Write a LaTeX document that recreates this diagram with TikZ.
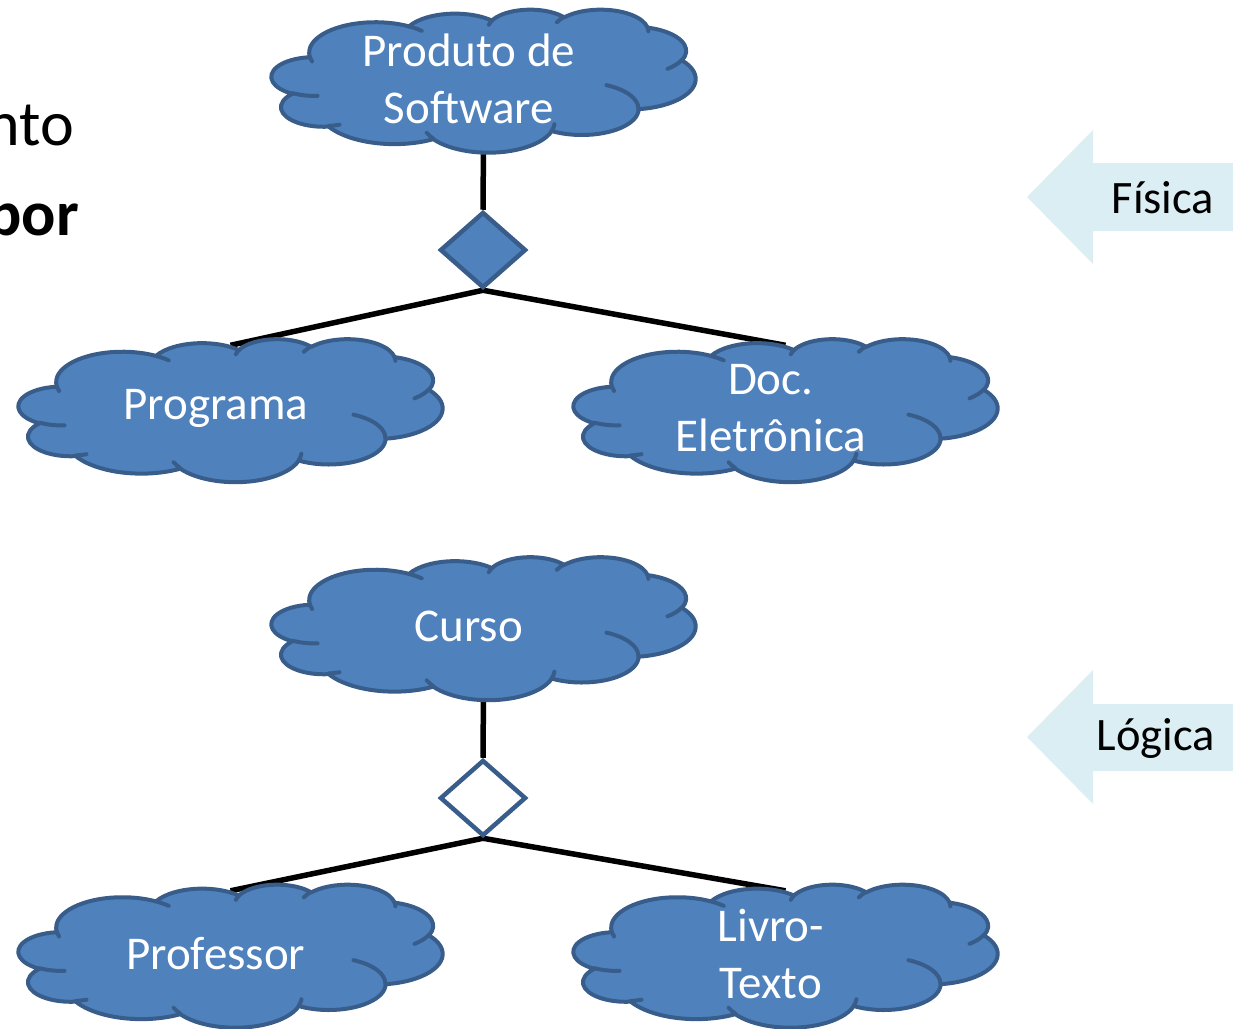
\documentclass[tikz,border=0pt]{standalone}
\usepackage{fontspec}
\setmainfont{Carlito}
\usetikzlibrary{shapes.geometric, backgrounds}

\definecolor{nuvemfill}{HTML}{4F81BD}
\definecolor{nuvemline}{HTML}{385D8A}
\definecolor{setafill}{HTML}{DBEEF4}

\tikzset{
	borda/.style={draw=nuvemline, line width=4pt, line join=round},
	rotulo/.style={text=white, align=center, font=\fontsize{47}{57}\selectfont},
	losango/.style={diamond, minimum width=86pt, minimum height=76pt, inner sep=0pt,
		draw=nuvemline, line width=4.5pt},
	linha/.style={line width=5.5pt},
	seta/.style={fill=setafill},
	setatxt/.style={font=\fontsize{46.5}{50}\selectfont},
	% nuvem: caixa 0..432 x 0..432, esticada para 424 x 143
	nuvem/.pic={
		\begin{scope}[x=0.9815pt, y=-0.331pt, shift={(-216,-217)}]
			\path [borda, fill=nuvemfill] (39.00,143.70)
				arc [start angle=-187.75, delta angle=128.11, x radius=67.53, y radius=91.90]
				arc [start angle=-151.99, delta angle=106.54, x radius=53.33, y radius=72.67]
				arc [start angle=-153.46, delta angle=116.11, x radius=43.65, y radius=59.45]
				arc [start angle=-139.77, delta angle=129.58, x radius=48.57, y radius=65.95]
				arc [start angle=-74.80, delta angle=98.06, x radius=53.33, y radius=72.73]
				arc [start angle=-37.53, delta angle=119.39, x radius=67.75, y radius=92.20]
				arc [start angle=0.46, delta angle=121.53, x radius=57.85, y radius=78.67]
				arc [start angle=16.89, delta angle=129.26, x radius=67.52, y radius=92.15]
				arc [start angle=59.09, delta angle=91.00, x radius=77.20, y radius=105.43]
				arc [start angle=-276.71, delta angle=139.76, x radius=43.60, y radius=59.18]
				arc [start angle=-239.79, delta angle=143.93, x radius=43.45, y radius=59.45]
				-- cycle;
			\draw [borda, line cap=round]
				(46.93,261.77) arc [start angle=85.55, delta angle=34.80, x radius=43.45, y radius=59.45]
				(69.28,348.99) arc [start angle=68.23, delta angle=15.07, x radius=43.60, y radius=59.18]
				(164.78,390.90) arc [start angle=146.23, delta angle=12.25, x radius=67.52, y radius=92.15]
				(288.27,347.51) arc [start angle=4.74, delta angle=12.10, x radius=67.52, y radius=92.15]
				(341.29,229.54) arc [start angle=-64.03, delta angle=64.49, x radius=57.85, y radius=78.67]
				(417.98,153.54) arc [start angle=23.21, delta angle=26.43, x radius=53.33, y radius=72.73]
				(383.24,54.26) arc [start angle=-10.21, delta angle=11.03, x radius=48.57, y radius=65.95]
				(290.78,39.52) arc [start angle=-156.28, delta angle=16.56, x radius=48.57, y radius=65.95]
				(221.41,47.20) arc [start angle=-167.73, delta angle=14.24, x radius=43.65, y radius=59.45]
				(140.00,51.92) arc [start angle=-59.64, delta angle=13.90, x radius=67.53, y radius=91.90]
				(41.27,157.89) arc [start angle=163.19, delta angle=9.06, x radius=67.53, y radius=91.90];
			\coordinate (-topo) at (216,20);
			\coordinate (-base) at (216,400);
			\node [rotulo] (-txt) at (201,211) {#1};
		\end{scope}
	}
}

\begin{document}
\begin{tikzpicture}[x=1pt, y=-1pt]
	\useasboundingbox (0,0) rectangle (1233,1028);
	\clip (0,0) rectangle (1233,1028);

	% texto cortado na margem
	\node [anchor=base east, inner sep=0pt, font=\fontsize{64}{70}\selectfont] (tnto) at (74,145) {nto};
	\node [anchor=base east, inner sep=0pt, font=\fontsize{64}{70}\selectfont\bfseries] (tpor) at (79,235) {por};

	% agregacao fisica
	\pic (prod) at (483.5,81) {nuvem={Produto de\\Software}};
	\node [losango, fill=nuvemfill] (agr1) at (483,250) {};
	\pic (prog) at (230.5,410.5) {nuvem=Programa};
	\pic (doc) at (785.5,410.5) {nuvem={Doc.\\Eletrônica}};

	% agregacao logica
	\pic (curso) at (483.5,628.5) {nuvem=Curso};
	\node [losango, fill=white] (agr2) at (483,798) {};
	\pic (prof) at (230.5,956) {nuvem=Professor};
	\pic (livro) at (785.5,956) {nuvem={Livro-\\Texto}};

	\begin{scope}[on background layer]
		\draw [linha] (prod-base) -- (agr1.north);
		\draw [linha] (agr1.south) -- (prog-topo);
		\draw [linha] (agr1.south) -- (doc-topo);
		\draw [linha] (curso-base) -- (agr2.north);
		\draw [linha] (agr2.south) -- (prof-topo);
		\draw [linha] (agr2.south) -- (livro-topo);
	\end{scope}

	% setas
	\fill [seta] (1027,197) -- (1093,130) -- (1093,163) -- (1240,163) -- (1240,231) -- (1093,231) -- (1093,264) -- cycle;
	\node [setatxt] (fisica) at (1163,198) {Física};
	\fill [seta] (1027,737) -- (1093,670) -- (1093,704) -- (1240,704) -- (1240,771) -- (1093,771) -- (1093,804) -- cycle;
	\node [setatxt] (logica) at (1156,738) {Lógica};
\end{tikzpicture}
\end{document}
